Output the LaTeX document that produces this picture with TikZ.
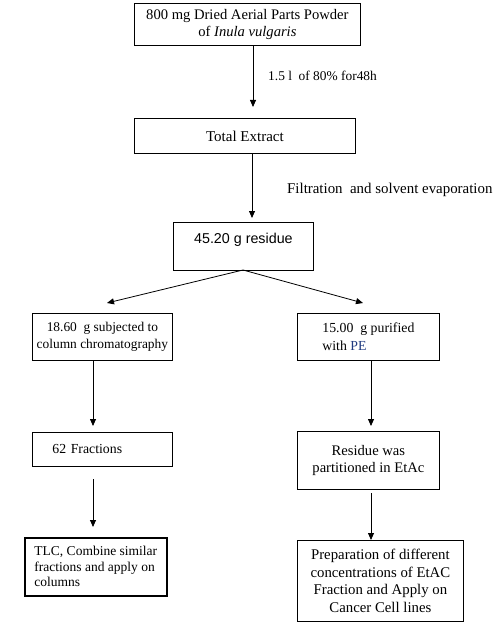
\documentclass[tikz,border=0pt]{standalone}
\usepackage{fontspec}
\setmainfont{Liberation Serif}
\newfontfamily\arialf{Liberation Sans}
\usetikzlibrary{arrows.meta}
\definecolor{pecol}{HTML}{1F3A80}
\newcommand{\fsz}[1]{\fontsize{#1}{17.5}\selectfont}
\begin{document}
\begin{tikzpicture}[x=1pt,y=-1pt,
  box/.style={draw, line width=0.8pt, inner sep=0pt, align=center, anchor=north west,
              font=\fsz{13.5}},
  arr/.style={line width=0.8pt, -{Triangle[length=7pt,width=6pt]}},
  lbl/.style={anchor=west, inner sep=0pt}]
\useasboundingbox (0,0) rectangle (494,623);

% boxes
\node[box, minimum width=226, minimum height=42, font=\fsz{14.6}] (b1) at (134,3)
  {800 mg Dried Aerial Parts Powder\\of \textit{Inula vulgaris}};
\node[box, minimum width=221, minimum height=35, font=\fsz{15}] (b2) at (134,118) {Total Extract};
\node[box, minimum width=140, minimum height=48, text height=21, text depth=27,
      font=\arialf\fontsize{14.3}{16}\selectfont] (b3) at (173,222) {45.20 g residue};
\node[box, minimum width=140, minimum height=47, font=\fsz{13.4}] (b4l) at (32,313)
  {18.60\ \ g subjected\ to\\column chromatography};
\node[box, minimum width=142, minimum height=47, align=left, font=\fsz{13.8}] (b4r) at (297,313)
  {15.00\ \ g purified\\with \textcolor{pecol}{PE}};
\node[box, minimum width=140, minimum height=34, align=left, inner xsep=20,
      text width=100, font=\fsz{13.8}] (b5l) at (32,432) {62 Fractions};
\node[box, minimum width=142, minimum height=58, font=\fsz{14.6}] (b5r) at (297,431)
  {Residue was\\partitioned in EtAc};
\node[box, line width=1.6pt, minimum width=142, minimum height=58, align=left,
      font=\fontsize{13.5}{15.5}\selectfont] (b6l) at (24,537)
  {TLC, Combine similar\\fractions and apply on\\columns};
\node[box, minimum width=166, minimum height=81, font=\fsz{14.8}] (b6r) at (297,540)
  {Preparation of different\\concentrations of EtAC\\Fraction and Apply on\\Cancer Cell lines};

% arrow ends
\coordinate (t1) at (253,107);
\coordinate (t2) at (252,218);
\coordinate (apex) at (243,270);
\coordinate (tl) at (107,303);
\coordinate (tr) at (363,303);
\coordinate (t3) at (93,426);
\coordinate (t4) at (371,426);
\coordinate (s5) at (93,479);
\coordinate (t5) at (93,527);
\coordinate (s6) at (371,493);
\coordinate (t6) at (371,540);

\draw[arr] (b1.south -| t1) -- (t1);
\draw[arr] (b2.south -| t2) -- (t2);
\draw[arr] (apex) -- (tl);
\draw[arr] (apex) -- (tr);
\draw[arr] (b4l.south -| t3) -- (t3);
\draw[arr] (b4r.south -| t4) -- (t4);
\draw[arr] (s5) -- (t5);
\draw[arr] (s6) -- (t6);

% labels
\node[lbl, font=\fsz{13.4}] (l1) at (268,76) {1.5 l\ \ of 80\% for48h};
\node[lbl, font=\fsz{14.9}] (l2) at (287,190) {Filtration\ \ and solvent evaporation};
\end{tikzpicture}
\end{document}
